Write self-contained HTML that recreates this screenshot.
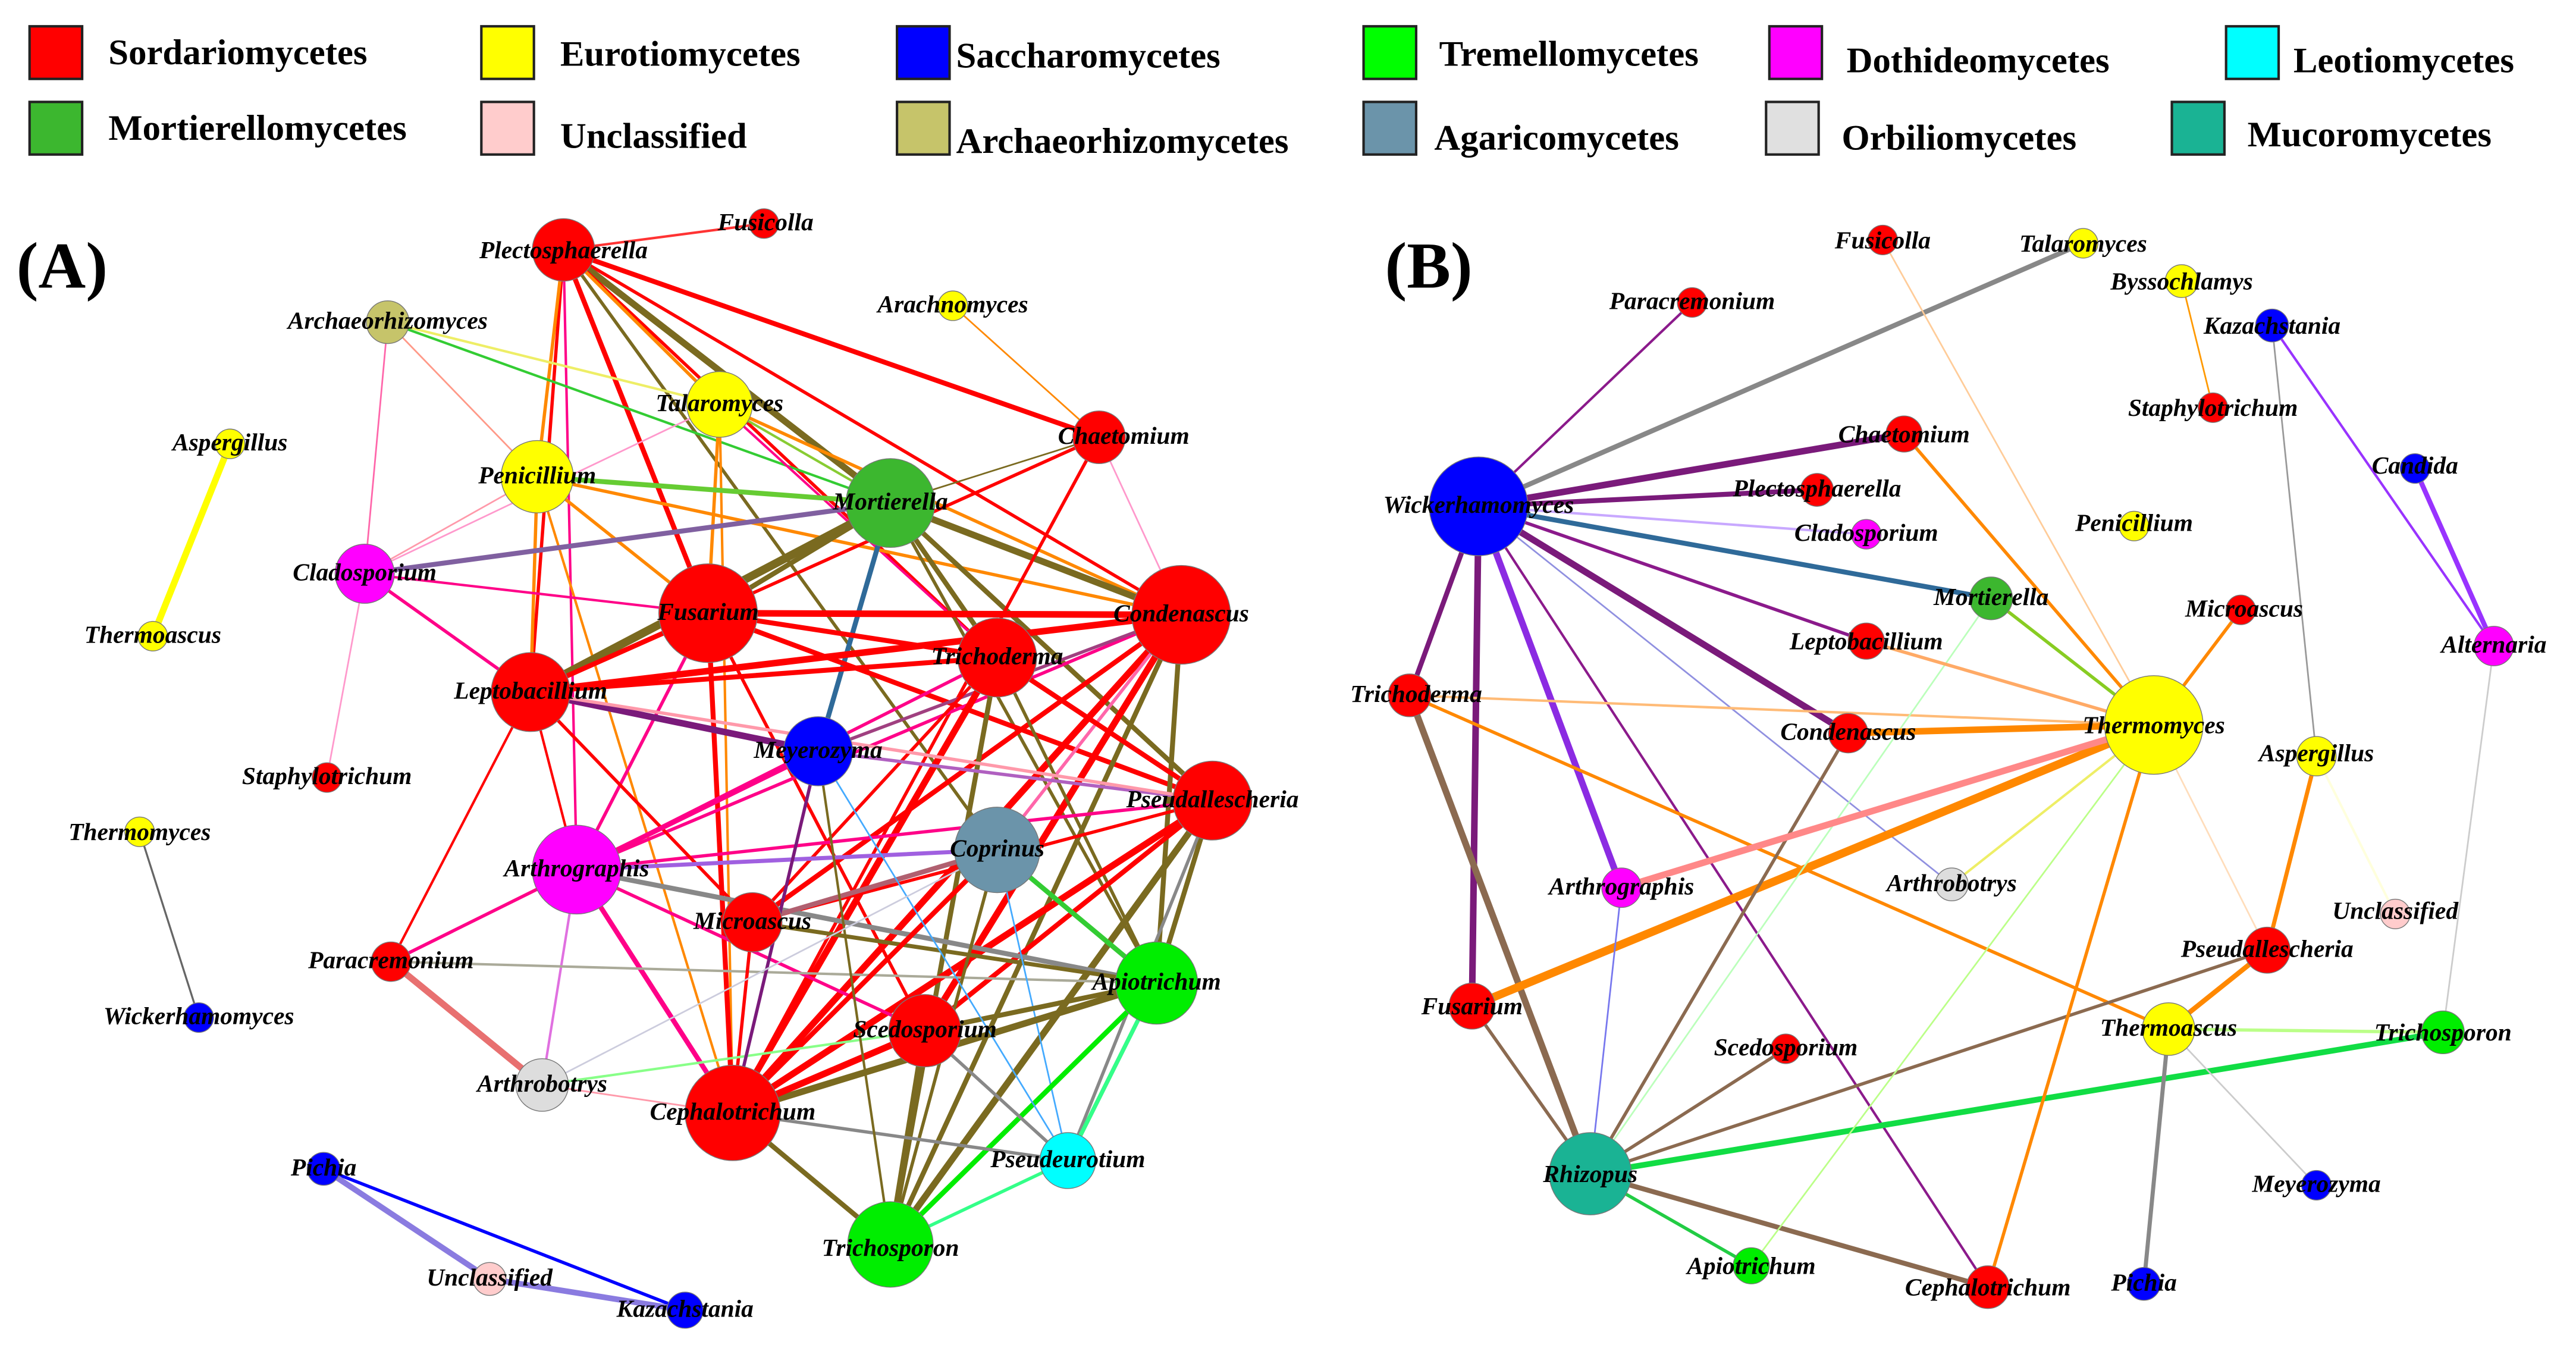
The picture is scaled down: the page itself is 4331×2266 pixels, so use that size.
<!DOCTYPE html>
<html><head><meta charset="utf-8"><style>
html,body{margin:0;padding:0;background:#fff;width:4331px;height:2266px;overflow:hidden}
svg{display:block}
.lg{font-family:"Liberation Serif",serif;font-weight:bold;font-size:22px}
.lb{font-family:"Liberation Serif",serif;font-weight:bold;font-style:italic;font-size:15px;text-anchor:middle}
.pl{font-family:"Liberation Serif",serif;font-weight:bold;font-size:40px}
circle{stroke:#777;stroke-width:0.5}
</style></head><body>
<svg width="4331" height="2266" viewBox="0 0 1568 820" preserveAspectRatio="none" xmlns="http://www.w3.org/2000/svg">
<g stroke="#222" stroke-width="1.5">
<rect x="18" y="16" width="32" height="32" fill="#f00"/>
<rect x="293" y="16" width="32" height="32" fill="#ff0"/>
<rect x="546" y="16" width="32" height="32" fill="#00f"/>
<rect x="830" y="16" width="32" height="32" fill="#0f0"/>
<rect x="1077" y="16" width="32" height="32" fill="#f0f"/>
<rect x="1355" y="16" width="32" height="32" fill="#0ff"/>
<rect x="18" y="62" width="32" height="32" fill="#3cb72f"/>
<rect x="293" y="62" width="32" height="32" fill="#fcc"/>
<rect x="546" y="62" width="32" height="32" fill="#c6c46a"/>
<rect x="830" y="62" width="32" height="32" fill="#6b94aa"/>
<rect x="1075" y="62" width="32" height="32" fill="#e0e0e0"/>
<rect x="1322" y="62" width="32" height="32" fill="#1ab394"/>
</g>
<g class="lg">
<text x="66" y="39">Sordariomycetes</text>
<text x="341" y="40">Eurotiomycetes</text>
<text x="582" y="41">Saccharomycetes</text>
<text x="876" y="40">Tremellomycetes</text>
<text x="1124" y="44">Dothideomycetes</text>
<text x="1396" y="44">Leotiomycetes</text>
<text x="66" y="85">Mortierellomycetes</text>
<text x="341" y="90">Unclassified</text>
<text x="582" y="93">Archaeorhizomycetes</text>
<text x="873" y="91">Agaricomycetes</text>
<text x="1121" y="91">Orbiliomycetes</text>
<text x="1368" y="89">Mucoromycetes</text>
</g>
<text class="pl" x="10" y="175">(A)</text>
<text class="pl" x="843" y="175">(B)</text>

<!-- Panel A edges -->
<g fill="none" stroke-linecap="round">
<line x1="343" y1="152" x2="465" y2="136" stroke="#f33" stroke-width="1.5"/>
<line x1="343" y1="152" x2="669" y2="266" stroke="#f00" stroke-width="3"/>
<line x1="343" y1="152" x2="431" y2="373" stroke="#f00" stroke-width="3"/>
<line x1="343" y1="152" x2="323" y2="421" stroke="#f00" stroke-width="2"/>
<line x1="343" y1="152" x2="719" y2="374" stroke="#f00" stroke-width="2"/>
<line x1="343" y1="152" x2="542" y2="306" stroke="#7a6a20" stroke-width="4"/>
<line x1="343" y1="152" x2="607" y2="400" stroke="#f00" stroke-width="2"/>
<line x1="343" y1="152" x2="327" y2="290" stroke="#f80" stroke-width="2"/>
<line x1="343" y1="152" x2="351" y2="529" stroke="#f08" stroke-width="1.5"/>
<line x1="343" y1="152" x2="438" y2="246" stroke="#f80" stroke-width="2"/>
<line x1="343" y1="152" x2="607" y2="517" stroke="#7a6a20" stroke-width="2"/>
<line x1="140" y1="270" x2="93" y2="387" stroke="#ff0" stroke-width="4"/>
<line x1="85" y1="506" x2="121" y2="619" stroke="#666" stroke-width="1.2"/>
<line x1="197" y1="711" x2="417" y2="797" stroke="#00f" stroke-width="2"/>
<line x1="197" y1="711" x2="298" y2="778" stroke="#8a7be0" stroke-width="3.5"/>
<line x1="298" y1="778" x2="417" y2="797" stroke="#8a7be0" stroke-width="3.5"/>
<line x1="236" y1="196" x2="222" y2="349" stroke="#f6a" stroke-width="1"/>
<line x1="236" y1="196" x2="542" y2="306" stroke="#3c3" stroke-width="1.5"/>
<line x1="236" y1="196" x2="438" y2="246" stroke="#ee6" stroke-width="1.5"/>
<line x1="236" y1="196" x2="327" y2="290" stroke="#f98" stroke-width="1"/>
<line x1="580" y1="186" x2="669" y2="266" stroke="#f80" stroke-width="1"/>
<line x1="438" y1="246" x2="542" y2="306" stroke="#8c3" stroke-width="1.5"/>
<line x1="438" y1="246" x2="719" y2="374" stroke="#f80" stroke-width="2"/>
<line x1="438" y1="246" x2="431" y2="373" stroke="#f80" stroke-width="2"/>
<line x1="438" y1="246" x2="446" y2="677" stroke="#f80" stroke-width="1.5"/>
<line x1="438" y1="246" x2="607" y2="400" stroke="#f08" stroke-width="1.5"/>
<line x1="327" y1="290" x2="542" y2="306" stroke="#6c3" stroke-width="3"/>
<line x1="327" y1="290" x2="431" y2="373" stroke="#f80" stroke-width="2"/>
<line x1="327" y1="290" x2="323" y2="421" stroke="#f80" stroke-width="2"/>
<line x1="327" y1="290" x2="719" y2="374" stroke="#f80" stroke-width="2"/>
<line x1="327" y1="290" x2="446" y2="677" stroke="#f80" stroke-width="1.5"/>
<line x1="327" y1="290" x2="222" y2="349" stroke="#f9a" stroke-width="1"/>
<line x1="222" y1="349" x2="542" y2="306" stroke="#8060a0" stroke-width="3"/>
<line x1="222" y1="349" x2="431" y2="373" stroke="#f08" stroke-width="1.5"/>
<line x1="222" y1="349" x2="323" y2="421" stroke="#f08" stroke-width="2"/>
<line x1="222" y1="349" x2="199" y2="473" stroke="#f9c" stroke-width="1"/>
<line x1="222" y1="349" x2="438" y2="246" stroke="#f9c" stroke-width="1"/>
<line x1="542" y1="306" x2="669" y2="266" stroke="#7a6a20" stroke-width="1"/>
<line x1="542" y1="306" x2="498" y2="457" stroke="#2f6a99" stroke-width="3"/>
<line x1="542" y1="306" x2="719" y2="374" stroke="#7a6a20" stroke-width="4"/>
<line x1="542" y1="306" x2="323" y2="421" stroke="#7a6a20" stroke-width="5"/>
<line x1="542" y1="306" x2="607" y2="400" stroke="#7a6a20" stroke-width="3"/>
<line x1="542" y1="306" x2="738" y2="487" stroke="#7a6a20" stroke-width="3"/>
<line x1="542" y1="306" x2="431" y2="373" stroke="#7a6a20" stroke-width="3"/>
<line x1="542" y1="306" x2="704" y2="598" stroke="#7a6a20" stroke-width="2"/>
<line x1="669" y1="266" x2="431" y2="373" stroke="#f00" stroke-width="2"/>
<line x1="669" y1="266" x2="446" y2="677" stroke="#f00" stroke-width="2"/>
<line x1="431" y1="373" x2="719" y2="374" stroke="#f00" stroke-width="4"/>
<line x1="431" y1="373" x2="607" y2="400" stroke="#f00" stroke-width="3"/>
<line x1="431" y1="373" x2="323" y2="421" stroke="#f00" stroke-width="3"/>
<line x1="431" y1="373" x2="446" y2="677" stroke="#f00" stroke-width="3"/>
<line x1="431" y1="373" x2="738" y2="487" stroke="#f00" stroke-width="3"/>
<line x1="431" y1="373" x2="563" y2="627" stroke="#f00" stroke-width="2"/>
<line x1="431" y1="373" x2="351" y2="529" stroke="#f08" stroke-width="2"/>
<line x1="719" y1="374" x2="323" y2="421" stroke="#f00" stroke-width="4"/>
<line x1="719" y1="374" x2="446" y2="677" stroke="#f00" stroke-width="4"/>
<line x1="719" y1="374" x2="563" y2="627" stroke="#f00" stroke-width="4"/>
<line x1="719" y1="374" x2="458" y2="561" stroke="#f00" stroke-width="3"/>
<line x1="719" y1="374" x2="351" y2="529" stroke="#f08" stroke-width="2"/>
<line x1="719" y1="374" x2="542" y2="757" stroke="#7a6a20" stroke-width="3"/>
<line x1="719" y1="374" x2="704" y2="598" stroke="#7a6a20" stroke-width="3"/>
<line x1="719" y1="374" x2="607" y2="517" stroke="#f6a" stroke-width="2"/>
<line x1="719" y1="374" x2="669" y2="266" stroke="#f9c" stroke-width="1"/>
<line x1="719" y1="374" x2="498" y2="457" stroke="#a04080" stroke-width="2"/>
<line x1="607" y1="400" x2="446" y2="677" stroke="#f00" stroke-width="4"/>
<line x1="607" y1="400" x2="323" y2="421" stroke="#f00" stroke-width="3"/>
<line x1="607" y1="400" x2="542" y2="757" stroke="#7a6a20" stroke-width="3"/>
<line x1="607" y1="400" x2="351" y2="529" stroke="#f08" stroke-width="2"/>
<line x1="607" y1="400" x2="458" y2="561" stroke="#f00" stroke-width="2"/>
<line x1="607" y1="400" x2="738" y2="487" stroke="#f00" stroke-width="3"/>
<line x1="607" y1="400" x2="704" y2="598" stroke="#7a6a20" stroke-width="2"/>
<line x1="738" y1="487" x2="446" y2="677" stroke="#f00" stroke-width="4"/>
<line x1="738" y1="487" x2="351" y2="529" stroke="#f08" stroke-width="2"/>
<line x1="738" y1="487" x2="542" y2="757" stroke="#7a6a20" stroke-width="4"/>
<line x1="738" y1="487" x2="563" y2="627" stroke="#f00" stroke-width="3"/>
<line x1="738" y1="487" x2="458" y2="561" stroke="#f00" stroke-width="2"/>
<line x1="738" y1="487" x2="498" y2="457" stroke="#b060c0" stroke-width="2"/>
<line x1="738" y1="487" x2="704" y2="598" stroke="#7a6a20" stroke-width="3"/>
<line x1="738" y1="487" x2="650" y2="706" stroke="#888" stroke-width="2"/>
<line x1="323" y1="421" x2="498" y2="457" stroke="#7a1a7a" stroke-width="4"/>
<line x1="323" y1="421" x2="458" y2="561" stroke="#f00" stroke-width="2"/>
<line x1="323" y1="421" x2="738" y2="487" stroke="#f9a" stroke-width="2"/>
<line x1="323" y1="421" x2="351" y2="529" stroke="#f00" stroke-width="1.5"/>
<line x1="323" y1="421" x2="238" y2="585" stroke="#f00" stroke-width="1.5"/>
<line x1="351" y1="529" x2="446" y2="677" stroke="#f08" stroke-width="3"/>
<line x1="351" y1="529" x2="330" y2="660" stroke="#e070e0" stroke-width="1.5"/>
<line x1="351" y1="529" x2="704" y2="598" stroke="#888" stroke-width="3"/>
<line x1="351" y1="529" x2="607" y2="517" stroke="#a060e0" stroke-width="2.5"/>
<line x1="351" y1="529" x2="563" y2="627" stroke="#f08" stroke-width="2"/>
<line x1="351" y1="529" x2="238" y2="585" stroke="#f08" stroke-width="2"/>
<line x1="351" y1="529" x2="498" y2="457" stroke="#f08" stroke-width="3"/>
<line x1="238" y1="585" x2="330" y2="660" stroke="#e87070" stroke-width="4"/>
<line x1="238" y1="585" x2="704" y2="598" stroke="#aa9" stroke-width="1.5"/>
<line x1="458" y1="561" x2="704" y2="598" stroke="#7a6a20" stroke-width="2.5"/>
<line x1="458" y1="561" x2="446" y2="677" stroke="#f00" stroke-width="2"/>
<line x1="607" y1="517" x2="446" y2="677" stroke="#f00" stroke-width="3"/>
<line x1="607" y1="517" x2="458" y2="561" stroke="#b06070" stroke-width="3"/>
<line x1="607" y1="517" x2="542" y2="757" stroke="#7a6a20" stroke-width="2"/>
<line x1="607" y1="517" x2="704" y2="598" stroke="#3c3" stroke-width="3"/>
<line x1="607" y1="517" x2="650" y2="706" stroke="#4af" stroke-width="1"/>
<line x1="704" y1="598" x2="446" y2="677" stroke="#7a6a20" stroke-width="4"/>
<line x1="704" y1="598" x2="542" y2="757" stroke="#7a6a20" stroke-width="3"/>
<line x1="704" y1="598" x2="563" y2="627" stroke="#7a6a20" stroke-width="3"/>
<line x1="704" y1="598" x2="650" y2="706" stroke="#888" stroke-width="2.5"/>
<line x1="704" y1="598" x2="542" y2="757" stroke="#0e0" stroke-width="3"/>
<line x1="563" y1="627" x2="542" y2="757" stroke="#7a6a20" stroke-width="4"/>
<line x1="563" y1="627" x2="446" y2="677" stroke="#f00" stroke-width="4"/>
<line x1="563" y1="627" x2="650" y2="706" stroke="#888" stroke-width="2"/>
<line x1="563" y1="627" x2="330" y2="660" stroke="#8f8" stroke-width="1.5"/>
<line x1="446" y1="677" x2="650" y2="706" stroke="#888" stroke-width="2"/>
<line x1="446" y1="677" x2="542" y2="757" stroke="#7a6a20" stroke-width="3"/>
<line x1="498" y1="457" x2="446" y2="677" stroke="#7a1a7a" stroke-width="2"/>
<line x1="498" y1="457" x2="542" y2="757" stroke="#7a6a20" stroke-width="1.5"/>
<line x1="498" y1="457" x2="650" y2="706" stroke="#4af" stroke-width="1"/>
<line x1="650" y1="706" x2="542" y2="757" stroke="#3f8" stroke-width="2"/>
<line x1="650" y1="706" x2="704" y2="598" stroke="#3f8" stroke-width="2.5"/>
<line x1="330" y1="660" x2="446" y2="677" stroke="#f9a" stroke-width="1"/>
<line x1="330" y1="660" x2="607" y2="517" stroke="#ccd" stroke-width="1"/>
</g>

<!-- Panel A nodes -->
<g>
<circle cx="343" cy="152" r="19" fill="#f00"/>
<circle cx="465" cy="136" r="9" fill="#f00"/>
<circle cx="236" cy="196" r="13" fill="#c6c46a"/>
<circle cx="580" cy="186" r="9" fill="#ff0"/>
<circle cx="438" cy="246" r="20" fill="#ff0"/>
<circle cx="140" cy="270" r="9" fill="#ff0"/>
<circle cx="669" cy="266" r="16" fill="#f00"/>
<circle cx="327" cy="290" r="22" fill="#ff0"/>
<circle cx="542" cy="306" r="27" fill="#3cb72f"/>
<circle cx="222" cy="349" r="18" fill="#f0f"/>
<circle cx="93" cy="387" r="9" fill="#ff0"/>
<circle cx="431" cy="373" r="30" fill="#f00"/>
<circle cx="719" cy="374" r="30" fill="#f00"/>
<circle cx="607" cy="400" r="24" fill="#f00"/>
<circle cx="323" cy="421" r="24" fill="#f00"/>
<circle cx="498" cy="457" r="21" fill="#00f"/>
<circle cx="199" cy="473" r="9" fill="#f00"/>
<circle cx="738" cy="487" r="24" fill="#f00"/>
<circle cx="85" cy="506" r="9" fill="#ff0"/>
<circle cx="607" cy="517" r="26" fill="#6b94aa"/>
<circle cx="351" cy="529" r="27" fill="#f0f"/>
<circle cx="458" cy="561" r="18" fill="#f00"/>
<circle cx="238" cy="585" r="12" fill="#f00"/>
<circle cx="704" cy="598" r="25" fill="#0e0"/>
<circle cx="121" cy="619" r="9" fill="#00f"/>
<circle cx="563" cy="627" r="22" fill="#f00"/>
<circle cx="330" cy="660" r="16" fill="#ddd"/>
<circle cx="446" cy="677" r="29" fill="#f00"/>
<circle cx="650" cy="706" r="17" fill="#0ff"/>
<circle cx="197" cy="711" r="10" fill="#00f"/>
<circle cx="542" cy="757" r="26" fill="#0e0"/>
<circle cx="298" cy="778" r="10" fill="#fcc"/>
<circle cx="417" cy="797" r="11" fill="#00f"/>
</g>
<g class="lb">
<text x="343" y="157">Plectosphaerella</text>
<text x="466" y="140">Fusicolla</text>
<text x="236" y="200">Archaeorhizomyces</text>
<text x="580" y="190">Arachnomyces</text>
<text x="438" y="250">Talaromyces</text>
<text x="140" y="274">Aspergillus</text>
<text x="684" y="270">Chaetomium</text>
<text x="327" y="294">Penicillium</text>
<text x="542" y="310">Mortierella</text>
<text x="222" y="353">Cladosporium</text>
<text x="93" y="391">Thermoascus</text>
<text x="431" y="377">Fusarium</text>
<text x="719" y="378">Condenascus</text>
<text x="607" y="404">Trichoderma</text>
<text x="323" y="425">Leptobacillium</text>
<text x="498" y="461">Meyerozyma</text>
<text x="199" y="477">Staphylotrichum</text>
<text x="738" y="491">Pseudallescheria</text>
<text x="85" y="511">Thermomyces</text>
<text x="607" y="521">Coprinus</text>
<text x="351" y="533">Arthrographis</text>
<text x="458" y="565">Microascus</text>
<text x="238" y="589">Paracremonium</text>
<text x="704" y="602">Apiotrichum</text>
<text x="121" y="623">Wickerhamomyces</text>
<text x="563" y="631">Scedosporium</text>
<text x="330" y="664">Arthrobotrys</text>
<text x="446" y="681">Cephalotrichum</text>
<text x="650" y="710">Pseudeurotium</text>
<text x="197" y="715">Pichia</text>
<text x="542" y="764">Trichosporon</text>
<text x="298" y="782">Unclassified</text>
<text x="417" y="801">Kazachstania</text>
</g>

<!-- Panel B edges -->
<g fill="none" stroke-linecap="round">
<line x1="900" y1="308" x2="1030" y2="184" stroke="#8b1a8b" stroke-width="1.5"/>
<line x1="900" y1="308" x2="1268" y2="148" stroke="#888" stroke-width="3"/>
<line x1="900" y1="308" x2="1159" y2="264" stroke="#7a1a7a" stroke-width="4"/>
<line x1="900" y1="308" x2="1106" y2="298" stroke="#7a1a7a" stroke-width="3"/>
<line x1="900" y1="308" x2="1136" y2="325" stroke="#c8a8ff" stroke-width="1.5"/>
<line x1="900" y1="308" x2="1212" y2="364" stroke="#2f6a99" stroke-width="3"/>
<line x1="900" y1="308" x2="1136" y2="390" stroke="#8b1a8b" stroke-width="2"/>
<line x1="900" y1="308" x2="1125" y2="446" stroke="#7a1a7a" stroke-width="4"/>
<line x1="900" y1="308" x2="858" y2="423" stroke="#7a1a7a" stroke-width="3"/>
<line x1="900" y1="308" x2="896" y2="612" stroke="#7a1a7a" stroke-width="4"/>
<line x1="900" y1="308" x2="987" y2="540" stroke="#8b2be2" stroke-width="4"/>
<line x1="900" y1="308" x2="1188" y2="538" stroke="#9090e0" stroke-width="1"/>
<line x1="900" y1="308" x2="1210" y2="783" stroke="#8b1a8b" stroke-width="1.5"/>
<line x1="858" y1="423" x2="968" y2="714" stroke="#8b6a50" stroke-width="4"/>
<line x1="858" y1="423" x2="1311" y2="441" stroke="#fb7" stroke-width="1.5"/>
<line x1="858" y1="423" x2="1320" y2="626" stroke="#f80" stroke-width="2"/>
<line x1="896" y1="612" x2="1311" y2="441" stroke="#f80" stroke-width="5"/>
<line x1="896" y1="612" x2="968" y2="714" stroke="#8b6a50" stroke-width="2"/>
<line x1="968" y1="714" x2="1125" y2="446" stroke="#8b6a50" stroke-width="2"/>
<line x1="968" y1="714" x2="987" y2="540" stroke="#77e" stroke-width="1"/>
<line x1="968" y1="714" x2="1066" y2="770" stroke="#2c4" stroke-width="2"/>
<line x1="968" y1="714" x2="1487" y2="628" stroke="#1d4" stroke-width="3.5"/>
<line x1="968" y1="714" x2="1380" y2="578" stroke="#8b6a50" stroke-width="2"/>
<line x1="968" y1="714" x2="1212" y2="364" stroke="#bfb" stroke-width="1"/>
<line x1="968" y1="714" x2="1087" y2="638" stroke="#8b6a50" stroke-width="2"/>
<line x1="968" y1="714" x2="1210" y2="783" stroke="#8b6a50" stroke-width="3"/>
<line x1="1066" y1="770" x2="1311" y2="441" stroke="#bf8" stroke-width="1"/>
<line x1="1210" y1="783" x2="1311" y2="441" stroke="#f80" stroke-width="2"/>
<line x1="1311" y1="441" x2="1159" y2="264" stroke="#f80" stroke-width="2"/>
<line x1="1311" y1="441" x2="1212" y2="364" stroke="#8c2" stroke-width="2"/>
<line x1="1311" y1="441" x2="1125" y2="446" stroke="#f80" stroke-width="4"/>
<line x1="1311" y1="441" x2="1146" y2="146" stroke="#fc9" stroke-width="1"/>
<line x1="1311" y1="441" x2="1364" y2="371" stroke="#f80" stroke-width="2"/>
<line x1="1311" y1="441" x2="1136" y2="390" stroke="#fa6" stroke-width="2"/>
<line x1="1311" y1="441" x2="987" y2="540" stroke="#f88" stroke-width="4"/>
<line x1="1311" y1="441" x2="1380" y2="578" stroke="#fdb" stroke-width="1"/>
<line x1="1311" y1="441" x2="1188" y2="538" stroke="#ee6" stroke-width="1.5"/>
<line x1="1383" y1="198" x2="1410" y2="460" stroke="#999" stroke-width="1"/>
<line x1="1383" y1="198" x2="1518" y2="393" stroke="#93f" stroke-width="1.5"/>
<line x1="1470" y1="285" x2="1518" y2="393" stroke="#93f" stroke-width="3"/>
<line x1="1518" y1="393" x2="1487" y2="628" stroke="#ccc" stroke-width="1"/>
<line x1="1347" y1="248" x2="1328" y2="171" stroke="#f90" stroke-width="1"/>
<line x1="1410" y1="460" x2="1380" y2="578" stroke="#f80" stroke-width="2.5"/>
<line x1="1410" y1="460" x2="1458" y2="556" stroke="#ffd" stroke-width="1.5"/>
<line x1="1380" y1="578" x2="1320" y2="626" stroke="#f80" stroke-width="3"/>
<line x1="1320" y1="626" x2="1487" y2="628" stroke="#bf8" stroke-width="2"/>
<line x1="1320" y1="626" x2="1305" y2="781" stroke="#888" stroke-width="2.5"/>
<line x1="1320" y1="626" x2="1410" y2="721" stroke="#ccc" stroke-width="1"/>
</g>
<g>
<circle cx="1146" cy="146" r="9" fill="#f00"/>
<circle cx="1268" cy="148" r="9" fill="#ff0"/>
<circle cx="1030" cy="184" r="9" fill="#f00"/>
<circle cx="1328" cy="171" r="10" fill="#ff0"/>
<circle cx="1383" cy="198" r="10" fill="#00f"/>
<circle cx="1347" cy="248" r="9" fill="#f00"/>
<circle cx="1159" cy="264" r="11" fill="#f00"/>
<circle cx="1470" cy="285" r="9" fill="#00f"/>
<circle cx="900" cy="308" r="30" fill="#00f"/>
<circle cx="1106" cy="298" r="10" fill="#f00"/>
<circle cx="1136" cy="325" r="9" fill="#f0f"/>
<circle cx="1299" cy="320" r="9" fill="#ff0"/>
<circle cx="1212" cy="364" r="13" fill="#3cb72f"/>
<circle cx="1364" cy="371" r="9" fill="#f00"/>
<circle cx="1136" cy="390" r="11" fill="#f00"/>
<circle cx="1518" cy="393" r="12" fill="#f0f"/>
<circle cx="858" cy="423" r="13" fill="#f00"/>
<circle cx="1125" cy="446" r="12" fill="#f00"/>
<circle cx="1311" cy="441" r="30" fill="#ff0"/>
<circle cx="1410" cy="460" r="12" fill="#ff0"/>
<circle cx="987" cy="540" r="12" fill="#f0f"/>
<circle cx="1188" cy="538" r="10" fill="#ddd"/>
<circle cx="1458" cy="556" r="9" fill="#fcc"/>
<circle cx="1380" cy="578" r="14" fill="#f00"/>
<circle cx="896" cy="612" r="14" fill="#f00"/>
<circle cx="1320" cy="626" r="16" fill="#ff0"/>
<circle cx="1487" cy="628" r="13" fill="#0e0"/>
<circle cx="1087" cy="638" r="9" fill="#f00"/>
<circle cx="968" cy="714" r="25" fill="#1ab394"/>
<circle cx="1410" cy="721" r="9" fill="#00f"/>
<circle cx="1066" cy="770" r="11" fill="#0e0"/>
<circle cx="1210" cy="783" r="13" fill="#f00"/>
<circle cx="1305" cy="781" r="10" fill="#00f"/>
</g>
<g class="lb">
<text x="1146" y="151">Fusicolla</text>
<text x="1268" y="153">Talaromyces</text>
<text x="1030" y="188">Paracremonium</text>
<text x="1328" y="176">Byssochlamys</text>
<text x="1383" y="203">Kazachstania</text>
<text x="1347" y="253">Staphylotrichum</text>
<text x="1159" y="269">Chaetomium</text>
<text x="1470" y="288">Candida</text>
<text x="900" y="312">Wickerhamomyces</text>
<text x="1106" y="302">Plectosphaerella</text>
<text x="1136" y="329">Cladosporium</text>
<text x="1299" y="323">Penicillium</text>
<text x="1212" y="368">Mortierella</text>
<text x="1366" y="375">Microascus</text>
<text x="1136" y="395">Leptobacillium</text>
<text x="1518" y="397">Alternaria</text>
<text x="862" y="427">Trichoderma</text>
<text x="1125" y="450">Condenascus</text>
<text x="1311" y="446">Thermomyces</text>
<text x="1410" y="463">Aspergillus</text>
<text x="987" y="544">Arthrographis</text>
<text x="1188" y="542">Arthrobotrys</text>
<text x="1458" y="559">Unclassified</text>
<text x="1380" y="582">Pseudallescheria</text>
<text x="896" y="617">Fusarium</text>
<text x="1320" y="630">Thermoascus</text>
<text x="1487" y="633">Trichosporon</text>
<text x="1087" y="642">Scedosporium</text>
<text x="968" y="719">Rhizopus</text>
<text x="1410" y="725">Meyerozyma</text>
<text x="1066" y="775">Apiotrichum</text>
<text x="1210" y="788">Cephalotrichum</text>
<text x="1305" y="785">Pichia</text>
</g>
</svg>
</body></html>
